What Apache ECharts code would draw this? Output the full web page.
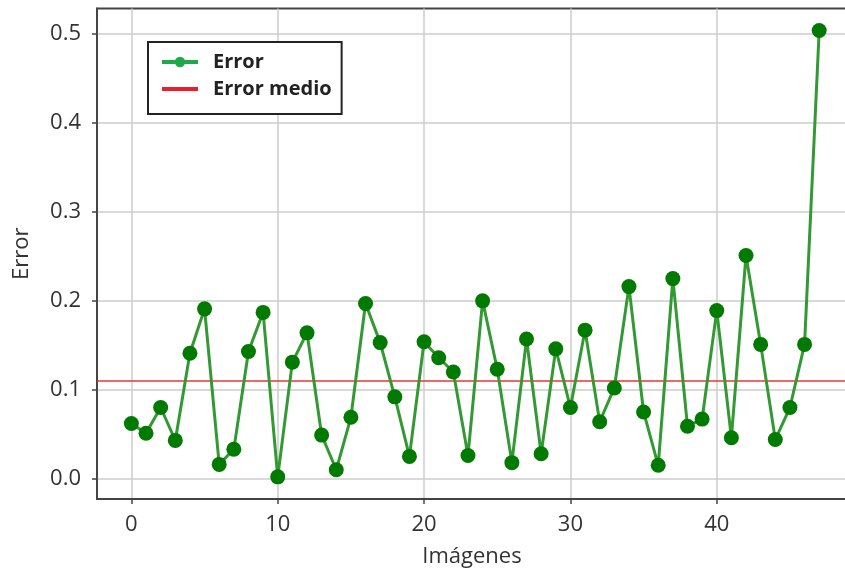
<!DOCTYPE html>
<html>
<head>
<meta charset="utf-8">
<script src="https://cdn.jsdelivr.net/npm/echarts@6/dist/echarts.min.js"></script>
<style>html,body{margin:0;padding:0;background:#fff;}#chart{width:845px;height:573px;}</style>
</head>
<body>
<div id="chart"></div>
<script>
const imageIndex = [0,1,2,3,4,5,6,7,8,9,10,11,12,13,14,15,16,17,18,19,20,21,22,23,24,25,26,27,28,29,30,31,32,33,34,35,36,37,38,39,40,41,42,43,44,45,46,47];
const errorValues = [0.062,0.051,0.080,0.043,0.141,0.191,0.016,0.033,0.143,0.187,
  0.002,0.131,0.164,0.049,0.010,0.069,0.197,0.153,0.092,0.025,
  0.154,0.136,0.120,0.026,0.200,0.123,0.018,0.157,0.028,0.146,
  0.080,0.167,0.064,0.102,0.216,0.075,0.015,0.225,0.059,0.067,
  0.189,0.046,0.251,0.151,0.044,0.080,0.151,0.504];
const meanError = 0.114;
const xTicks = [0,10,20,30,40];
const yTicks = [0.0,0.1,0.2,0.3,0.4,0.5];

const font = 'Open Sans';
const chart = echarts.init(document.getElementById('chart'), null, {renderer:'canvas'});
chart.setOption({
  animation:false,
  backgroundColor:'#fff',
  grid:{left:97, top:8.5, right:-2, bottom:74, outerBoundsMode:'none', containLabel:false,
    show:true, borderColor:'#444', borderWidth:1.8, backgroundColor:'transparent'},
  legend:{
    left:148, top:42, orient:'vertical',
    backgroundColor:'#fff', borderColor:'#222', borderWidth:2, borderRadius:0,
    padding:[10,10,15,12], itemGap:7, itemWidth:36, itemHeight:13,
    textStyle:{fontFamily:font, fontWeight:'bold', fontSize:20, color:'#222', padding:[0,0,0,10]},
    data:[
      {name:'Error', itemStyle:{color:'#1fa84a'}, lineStyle:{color:'#1fa84a', width:4}},
      {name:'Error medio', itemStyle:{color:'#e8202a', opacity:0}, lineStyle:{color:'#e8202a', width:4, opacity:1}}
    ]
  },
  xAxis:{
    type:'value', min:-2.35, max:48.9,
    name:'Imágenes', nameLocation:'middle', nameGap:47,
    nameTextStyle:{fontFamily:font, fontSize:22, color:'#333'},
    axisLine:{show:true, onZero:false, lineStyle:{color:'#444', width:1.8}},
    axisTick:{show:true, length:5, inside:false, customValues:xTicks, lineStyle:{color:'#444', width:1.5}},
    axisLabel:{customValues:xTicks, margin:15, fontFamily:font, fontSize:22, color:'#333'},
    splitLine:{show:true, lineStyle:{color:'#cccccc', width:1.5}}
  },
  yAxis:{
    type:'value', min:-0.0229, max:0.5288,
    name:'Error', nameLocation:'middle', nameGap:64,
    nameTextStyle:{fontFamily:font, fontSize:22, color:'#333'},
    axisLine:{show:true, onZero:false, lineStyle:{color:'#444', width:1.8}},
    axisTick:{show:true, length:5, inside:false, customValues:yTicks, lineStyle:{color:'#444', width:1.5}},
    axisLabel:{customValues:yTicks, margin:16, fontFamily:font, fontSize:22, color:'#333', formatter:v=>v.toFixed(1)},
    splitLine:{show:true, lineStyle:{color:'#cccccc', width:1.5}}
  },
  series:[
    {
      name:'Error', type:'line',
      data:imageIndex.map((x,i)=>[x, errorValues[i]]),
      symbol:'circle', symbolSize:15,
      lineStyle:{color:'#339933', width:3},
      itemStyle:{color:'#007a00'},
      z:3,
      markLine:{silent:true, symbol:'none', label:{show:false}, z:2,
        lineStyle:{color:'#ee3333', width:1.5, type:'solid'},
        emphasis:{disabled:true},
        data:[{yAxis:meanError}]}
    },
    {
      name:'Error medio', type:'line', data:[], symbol:'none',
      itemStyle:{color:'#e8202a'},
      lineStyle:{color:'#e8202a'}
    }
  ]
});
</script>
</body>
</html>
